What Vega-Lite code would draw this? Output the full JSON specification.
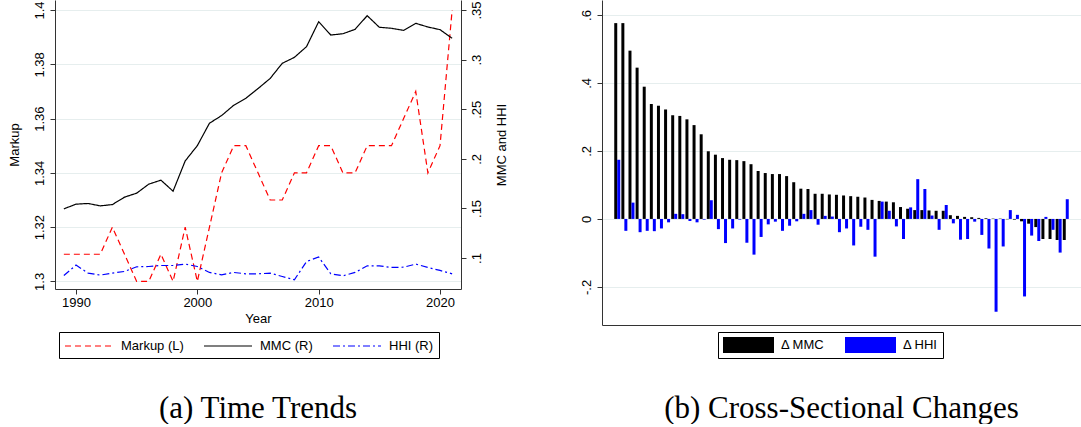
{
  "$schema": "https://vega.github.io/schema/vega-lite/v6.json",
  "padding": {"left": 8, "top": 0, "right": 0, "bottom": 0},
  "background": "white",
  "bounds": "flush",
  "spacing": 141,
  "datasets": {
    "trends": [
      {"year": 1989, "markup": 1.31, "mmc": 0.1496, "hhi": 0.0824},
      {"year": 1990, "markup": 1.31, "mmc": 0.1543, "hhi": 0.0929},
      {"year": 1991, "markup": 1.31, "mmc": 0.1550, "hhi": 0.0848},
      {"year": 1992, "markup": 1.31, "mmc": 0.1526, "hhi": 0.0828},
      {"year": 1993, "markup": 1.32, "mmc": 0.1539, "hhi": 0.0848},
      {"year": 1994, "markup": 1.31, "mmc": 0.1614, "hhi": 0.0865},
      {"year": 1995, "markup": 1.30, "mmc": 0.1654, "hhi": 0.0912},
      {"year": 1996, "markup": 1.30, "mmc": 0.1745, "hhi": 0.0915},
      {"year": 1997, "markup": 1.31, "mmc": 0.1785, "hhi": 0.0925},
      {"year": 1998, "markup": 1.30, "mmc": 0.1674, "hhi": 0.0925},
      {"year": 1999, "markup": 1.32, "mmc": 0.1979, "hhi": 0.0939},
      {"year": 2000, "markup": 1.30, "mmc": 0.2133, "hhi": 0.0915},
      {"year": 2001, "markup": 1.32, "mmc": 0.2359, "hhi": 0.0855},
      {"year": 2002, "markup": 1.34, "mmc": 0.2436, "hhi": 0.0831},
      {"year": 2003, "markup": 1.35, "mmc": 0.2540, "hhi": 0.0855},
      {"year": 2004, "markup": 1.35, "mmc": 0.2611, "hhi": 0.0841},
      {"year": 2005, "markup": 1.34, "mmc": 0.2708, "hhi": 0.0841},
      {"year": 2006, "markup": 1.33, "mmc": 0.2810, "hhi": 0.0848},
      {"year": 2007, "markup": 1.33, "mmc": 0.2963, "hhi": 0.0814},
      {"year": 2008, "markup": 1.34, "mmc": 0.3023, "hhi": 0.0781},
      {"year": 2009, "markup": 1.34, "mmc": 0.3131, "hhi": 0.0965},
      {"year": 2010, "markup": 1.35, "mmc": 0.3382, "hhi": 0.1010},
      {"year": 2011, "markup": 1.35, "mmc": 0.3248, "hhi": 0.0841},
      {"year": 2012, "markup": 1.34, "mmc": 0.3261, "hhi": 0.0821},
      {"year": 2013, "markup": 1.34, "mmc": 0.3305, "hhi": 0.0855},
      {"year": 2014, "markup": 1.35, "mmc": 0.3443, "hhi": 0.0922},
      {"year": 2015, "markup": 1.35, "mmc": 0.3326, "hhi": 0.0922},
      {"year": 2016, "markup": 1.35, "mmc": 0.3316, "hhi": 0.0905},
      {"year": 2017, "markup": 1.36, "mmc": 0.3295, "hhi": 0.0908},
      {"year": 2018, "markup": 1.37, "mmc": 0.3366, "hhi": 0.0939},
      {"year": 2019, "markup": 1.34, "mmc": 0.3329, "hhi": 0.0905},
      {"year": 2020, "markup": 1.35, "mmc": 0.3302, "hhi": 0.0875},
      {"year": 2021, "markup": 1.40, "mmc": 0.3215, "hhi": 0.0841}
    ],
    "bars": [
      {"id": 1, "mmc": 0.576, "hhi": 0.174},
      {"id": 2, "mmc": 0.576, "hhi": -0.035},
      {"id": 3, "mmc": 0.495, "hhi": 0.048},
      {"id": 4, "mmc": 0.445, "hhi": -0.039},
      {"id": 5, "mmc": 0.389, "hhi": -0.035},
      {"id": 6, "mmc": 0.338, "hhi": -0.036},
      {"id": 7, "mmc": 0.333, "hhi": -0.028},
      {"id": 8, "mmc": 0.322, "hhi": -0.010},
      {"id": 9, "mmc": 0.305, "hhi": 0.015},
      {"id": 10, "mmc": 0.303, "hhi": 0.014},
      {"id": 11, "mmc": 0.293, "hhi": -0.006},
      {"id": 12, "mmc": 0.276, "hhi": -0.010},
      {"id": 13, "mmc": 0.249, "hhi": -0.002},
      {"id": 14, "mmc": 0.199, "hhi": 0.055},
      {"id": 15, "mmc": 0.189, "hhi": -0.030},
      {"id": 16, "mmc": 0.179, "hhi": -0.071},
      {"id": 17, "mmc": 0.174, "hhi": -0.028},
      {"id": 18, "mmc": 0.173, "hhi": -0.002},
      {"id": 19, "mmc": 0.170, "hhi": -0.070},
      {"id": 20, "mmc": 0.161, "hhi": -0.105},
      {"id": 21, "mmc": 0.141, "hhi": -0.053},
      {"id": 22, "mmc": 0.135, "hhi": -0.016},
      {"id": 23, "mmc": 0.132, "hhi": -0.008},
      {"id": 24, "mmc": 0.132, "hhi": -0.035},
      {"id": 25, "mmc": 0.126, "hhi": -0.020},
      {"id": 26, "mmc": 0.108, "hhi": -0.007},
      {"id": 27, "mmc": 0.089, "hhi": 0.015},
      {"id": 28, "mmc": 0.088, "hhi": 0.026},
      {"id": 29, "mmc": 0.074, "hhi": -0.017},
      {"id": 30, "mmc": 0.074, "hhi": 0.009},
      {"id": 31, "mmc": 0.072, "hhi": 0.007},
      {"id": 32, "mmc": 0.071, "hhi": -0.039},
      {"id": 33, "mmc": 0.069, "hhi": -0.028},
      {"id": 34, "mmc": 0.067, "hhi": -0.078},
      {"id": 35, "mmc": 0.065, "hhi": -0.023},
      {"id": 36, "mmc": 0.063, "hhi": -0.032},
      {"id": 37, "mmc": 0.056, "hhi": -0.111},
      {"id": 38, "mmc": 0.053, "hhi": 0.051},
      {"id": 39, "mmc": 0.051, "hhi": 0.024},
      {"id": 40, "mmc": 0.049, "hhi": -0.022},
      {"id": 41, "mmc": 0.035, "hhi": -0.059},
      {"id": 42, "mmc": 0.030, "hhi": 0.034},
      {"id": 43, "mmc": 0.026, "hhi": 0.117},
      {"id": 44, "mmc": 0.026, "hhi": 0.088},
      {"id": 45, "mmc": 0.025, "hhi": 0.010},
      {"id": 46, "mmc": 0.024, "hhi": -0.032},
      {"id": 47, "mmc": 0.024, "hhi": 0.041},
      {"id": 48, "mmc": 0.011, "hhi": -0.013},
      {"id": 49, "mmc": 0.009, "hhi": -0.061},
      {"id": 50, "mmc": 0.006, "hhi": -0.059},
      {"id": 51, "mmc": 0.005, "hhi": -0.008},
      {"id": 52, "mmc": 0.003, "hhi": -0.047},
      {"id": 53, "mmc": 0.002, "hhi": -0.087},
      {"id": 54, "mmc": 0.001, "hhi": -0.273},
      {"id": 55, "mmc": 0.001, "hhi": -0.081},
      {"id": 56, "mmc": -0.001, "hhi": 0.026},
      {"id": 57, "mmc": -0.002, "hhi": 0.012},
      {"id": 58, "mmc": -0.007, "hhi": -0.228},
      {"id": 59, "mmc": -0.014, "hhi": -0.049},
      {"id": 60, "mmc": -0.024, "hhi": -0.065},
      {"id": 61, "mmc": -0.059, "hhi": 0.006},
      {"id": 62, "mmc": -0.059, "hhi": -0.032},
      {"id": 63, "mmc": -0.062, "hhi": -0.099},
      {"id": 64, "mmc": -0.062, "hhi": 0.058}
    ]
  },
  "hconcat": [
    {
      "width": 406,
      "height": 289,
      "data": {"name": "trends"},
      "transform": [{"fold": ["markup", "mmc", "hhi"], "as": ["series", "value"]}],
      "title": {"text": "(a) Time Trends", "orient": "bottom", "frame": "group", "anchor": "middle", "offset": 35},
      "layer": [
        {
          "transform": [{"filter": "datum.series === 'markup'"}],
          "mark": {"type": "line", "strokeWidth": 1.2},
          "encoding": {
            "x": {"field": "year", "type": "quantitative", "title": "Year",
                  "scale": {"domain": [1988.27, 2021.73], "nice": false, "zero": false},
                  "axis": {"values": [1990, 2000, 2010, 2020], "format": "d", "grid": false, "labelPadding": 2, "titlePadding": 3, "labelAngle": 0}},
            "y": {"field": "value", "type": "quantitative", "title": "Markup",
                  "scale": {"domain": [1.2972, 1.4037], "nice": false, "zero": false},
                  "axis": {"orient": "left", "values": [1.3, 1.32, 1.34, 1.36, 1.38, 1.4], "labelExpr": "format(datum.value, '.2~f')", "grid": true, "labelAngle": -90, "labelAlign": "center", "labelBaseline": "bottom", "labelPadding": 4, "titlePadding": 12}},
            "color": {"field": "series", "type": "nominal",
                      "scale": {"domain": ["markup", "mmc", "hhi"], "range": ["#ff0000", "#000000", "#0000ff"]},
                      "legend": {"orient": "none", "legendX": 4, "legendY": 332, "direction": "horizontal", "title": null, "symbolType": "M-1,0L5,0", "symbolSize": 256, "symbolStrokeWidth": 1.2, "labelFontSize": 13, "labelColor": "#000", "labelOffset": 39, "columnPadding": 17, "padding": 5, "strokeColor": "#000",
                                 "labelExpr": "datum.label === 'markup' ? 'Markup (L)' : datum.label === 'mmc' ? 'MMC (R)' : 'HHI (R)'"}},
            "strokeDash": {"field": "series", "type": "nominal",
                      "scale": {"domain": ["markup", "mmc", "hhi"], "range": [[6, 4], [1, 0], [7, 3, 2, 3]]},
                      "legend": {"orient": "none", "legendX": 4, "legendY": 332, "direction": "horizontal", "title": null, "symbolType": "M-1,0L5,0", "symbolSize": 256, "symbolStrokeWidth": 1.2, "labelFontSize": 13, "labelColor": "#000", "labelOffset": 39, "columnPadding": 17, "padding": 5, "strokeColor": "#000",
                                 "labelExpr": "datum.label === 'markup' ? 'Markup (L)' : datum.label === 'mmc' ? 'MMC (R)' : 'HHI (R)'"}}
          }
        },
        {
          "transform": [{"filter": "datum.series !== 'markup'"}],
          "mark": {"type": "line", "strokeWidth": 1.2},
          "encoding": {
            "x": {"field": "year", "type": "quantitative", "title": "Year",
                  "scale": {"domain": [1988.27, 2021.73], "nice": false, "zero": false}},
            "y": {"field": "value", "type": "quantitative", "title": "MMC and HHI",
                  "scale": {"domain": [0.0688, 0.3601], "nice": false, "zero": false},
                  "axis": {"orient": "right", "values": [0.1, 0.15, 0.2, 0.25, 0.3, 0.35], "labelExpr": "replace(format(datum.value, '.2~f'), '0.', '.')", "grid": false, "labelAngle": -90, "labelAlign": "center", "labelBaseline": "top", "labelPadding": 4, "titleAngle": -90, "titleBaseline": "top", "titlePadding": 12}},
            "color": {"field": "series", "type": "nominal"},
            "strokeDash": {"field": "series", "type": "nominal"}
          }
        }
      ],
      "resolve": {"scale": {"y": "independent"}}
    },
    {
      "width": 479,
      "height": 325,
      "data": {"name": "bars"},
      "transform": [{"fold": ["mmc", "hhi"], "as": ["measure", "value"]}],
      "title": {"text": "(b) Cross-Sectional Changes", "orient": "bottom", "frame": "group", "anchor": "middle", "offset": 35},
      "mark": {"type": "bar"},
      "encoding": {
        "x": {"field": "id", "type": "ordinal", "title": null,
              "scale": {"domain": [0, 1, 2, 3, 4, 5, 6, 7, 8, 9, 10, 11, 12, 13, 14, 15, 16, 17, 18, 19, 20, 21, 22, 23, 24, 25, 26, 27, 28, 29, 30, 31, 32, 33, 34, 35, 36, 37, 38, 39, 40, 41, 42, 43, 44, 45, 46, 47, 48, 49, 50, 51, 52, 53, 54, 55, 56, 57, 58, 59, 60, 61, 62, 63, 64, 65], "paddingInner": 0.16, "paddingOuter": 0.72},
              "axis": {"labels": false, "ticks": false, "grid": false}},
        "xOffset": {"field": "measure", "type": "nominal", "scale": {"domain": ["mmc", "hhi"]}},
        "y": {"field": "value", "type": "quantitative", "stack": null, "title": null,
              "scale": {"domain": [-0.312, 0.644], "nice": false, "zero": false},
              "axis": {"values": [-0.2, 0, 0.2, 0.4, 0.6], "labelExpr": "datum.value === 0 ? '0' : replace(replace(format(datum.value, '.1~f'), '0.', '.'), '\u2212', '-')", "grid": true, "labelAngle": -90, "labelAlign": "center", "labelBaseline": "bottom", "labelPadding": 4}},
        "color": {"field": "measure", "type": "nominal",
                  "scale": {"domain": ["mmc", "hhi"], "range": ["#000000", "#0000ff"]},
                  "legend": {"orient": "none", "legendX": 116, "legendY": 332, "direction": "horizontal", "title": null, "symbolType": "M-1,-1L5.375,-1L5.375,1L-1,1Z", "symbolSize": 256, "symbolStrokeWidth": 0, "labelFontSize": 13, "labelColor": "#000", "labelOffset": 42, "columnPadding": 20, "padding": 5, "strokeColor": "#000",
                             "labelExpr": "datum.label === 'mmc' ? '\u0394 MMC' : '\u0394 HHI'"}}
      }
    }
  ],
  "resolve": {"scale": {"color": "independent", "strokeDash": "independent"}, "legend": {"color": "independent", "strokeDash": "independent"}},
  "config": {
    "view": {"stroke": null},
    "font": "Liberation Sans",
    "axis": {"domainColor": "#333333", "tickColor": "#333333", "labelColor": "#000000", "titleColor": "#000000", "labelFont": "Liberation Sans", "titleFont": "Liberation Sans", "labelFontSize": 13, "titleFontSize": 13, "titleFontWeight": "normal", "tickSize": 5, "gridColor": "#e6eeee", "gridWidth": 1, "domainWidth": 1, "tickWidth": 1},
    "legend": {"labelFont": "Liberation Sans"},
    "title": {"font": "Liberation Serif", "fontSize": 31, "fontWeight": "normal", "color": "#000000"}
  }
}
